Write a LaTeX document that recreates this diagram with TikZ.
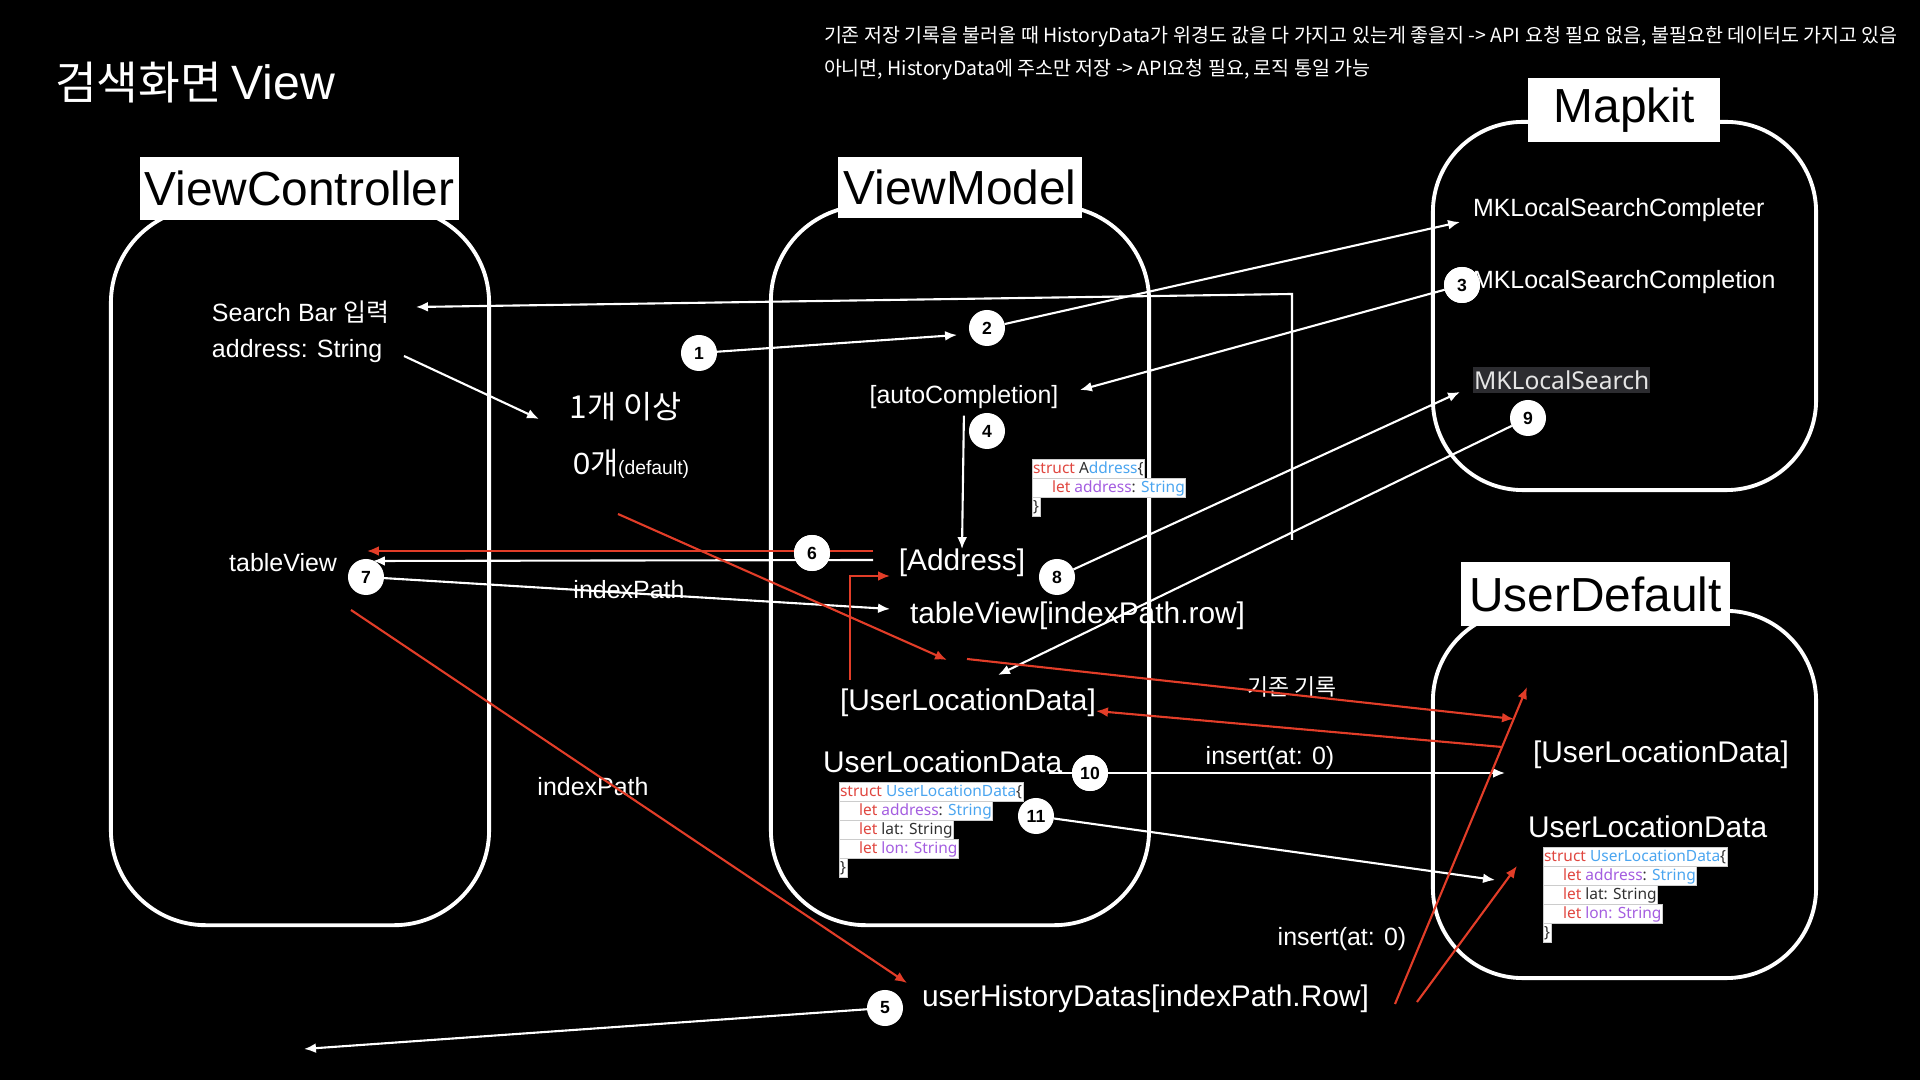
\documentclass[tikz,border=0pt]{standalone}
\usepackage{fontspec}
\setmainfont{Liberation Sans}
\newfontfamily\kr{Noto Sans CJK KR}
\newfontfamily\codefont{Noto Sans}
\usetikzlibrary{arrows.meta}
\definecolor{redline}{HTML}{E23D28}
\definecolor{kwred}{HTML}{E0463F}
\definecolor{tyblue}{HTML}{4AA5F0}
\definecolor{idpurple}{HTML}{A45DE0}
\definecolor{codegray}{HTML}{303030}
\definecolor{hlgray}{HTML}{2C2C30}
\newcommand{\fsz}[1]{\fontsize{#1}{#1}\selectfont}

\begin{document}
\begin{tikzpicture}[x=0.01cm, y=-0.01cm]
\tikzset{ >={Latex[length=3.4pt,width=2.8pt]}, inner sep=0pt, outer sep=0pt,
  box/.style={draw=white, line width=1.1pt, rounded corners=0.95cm},
  boxlabel/.style={fill=white, text=black, font=\fsz{13.6}},
  txt/.style={text=white, font=\fsz{7.1}},
  bigtxt/.style={text=white, font=\fsz{8.5}},
  num/.style={circle, fill=white, text=black, minimum size=0.36cm, font=\bfseries\fsz{5}},
  wire/.style={white, line width=0.6pt},
  redwire/.style={redline, line width=0.6pt},
  code/.style={fill=white, draw=black!20, line width=0.2pt, anchor=west, inner xsep=0.3pt,
    inner ysep=0.35pt, text height=3.6pt, text depth=1.1pt, font=\codefont\fsz{4.4}},
}

\fill [black] (0,0) rectangle (1920,1080);
\useasboundingbox (0,0) rectangle (1920,1080);

%\draw [gray, dashed] (0,0) grid[step=1cm] (1920,1080);

\node [anchor=west, text=white] (TT) at (55,83) {{\kr\fsz{12.9}검색화면} {\fsz{13.7}View}};
\node [anchor=west, text=white, font=\kr\fsz{5.55}] (C1) at (824,37) {기존 저장 기록을 불러올 때 HistoryData가 위경도 값을 다 가지고 있는게 좋을지 -> API 요청 필요 없음, 불필요한 데이터도 가지고 있음};
\node [anchor=west, text=white, font=\kr\fsz{5.55}] (C2) at (824,70) {아니면, HistoryData에 주소만 저장 -> API요청 필요, 로직 통일 가능};

% boxes
\node [box, minimum width=3.78cm, minimum height=7.17cm] (VC) at (300,566.5) {};
\node [box, minimum width=3.78cm, minimum height=7.19cm] (VM) at (960,565.5) {};
\node [box, minimum width=3.83cm, minimum height=3.68cm, rounded corners=0.9cm] (MK) at (1624.5,306) {};
\node [box, minimum width=3.83cm, minimum height=3.67cm, rounded corners=0.9cm] (UD) at (1624.5,794.5) {};

\node [boxlabel, minimum width=3.19cm, minimum height=0.63cm] (VCL) at (299.5,188.5) {ViewController};
\node [boxlabel, minimum width=2.44cm, minimum height=0.61cm] (VML) at (960,187.5) {ViewModel};
\node [boxlabel, minimum width=1.92cm, minimum height=0.64cm] (MKL) at (1624,110) {Mapkit};
\node [boxlabel, minimum width=2.69cm, minimum height=0.64cm] (UDL) at (1595.5,594) {UserDefault};

% texts
\node [txt, anchor=west] (SB) at (212,312) {Search Bar {\kr 입력}};
\node [txt, anchor=west] (AS) at (212,351) {address: String};
\node [txt, anchor=east] (TV) at (337,563) {tableView};
\node [text=white, font=\kr\fsz{9}] (ONE) at (626,407) {1개 이상};
\node [text=white, anchor=west] (ZERO) at (573,464) {{\fsz{8.7}0}{\kr\fsz{8.7}개}{\fsz{5.5}(default)}};
\node [txt] (AC) at (964,397) {[autoCompletion]};
\node [bigtxt] (AD) at (962,563) {[Address]};
\node [bigtxt, anchor=west] (TVR) at (910,616) {tableView[indexPath.row]};
\node [bigtxt, anchor=west] (ULA) at (840,703) {[UserLocationData]};
\node [bigtxt, anchor=west] (ULD) at (823,762) {UserLocationData};
\node [bigtxt, anchor=west] (UHD) at (922,999) {userHistoryDatas[indexPath.Row]};
\node [txt] (IP1) at (629,590) {indexPath};
\node [txt] (IP2) at (593,787) {indexPath};
\node [text=white, font=\kr\fsz{6.5}] (OLD) at (1292,687) {기존 기록};
\node [txt] (INS1) at (1270,758) {insert(at: 0)};
\node [txt] (INS2) at (1342,939) {insert(at: 0)};
\node [txt, anchor=west] (MK1) at (1473,210) {MKLocalSearchCompleter};
\node [txt, anchor=west] (MK2) at (1473,282) {MKLocalSearchCompletion};
\node [anchor=west, fill=hlgray, text=white!90!black, inner xsep=0.3pt, inner ysep=1pt, font=\codefont\fsz{7}] (MK3) at (1473,380) {MKLocalSearch};
\node [bigtxt, anchor=west] (UDA) at (1533,755) {[UserLocationData]};
\node [bigtxt, anchor=west] (UDD) at (1528,827) {UserLocationData};

% code
\node [code] (AS1) at (1032,469) {\color{kwred}struct \color{codegray}A\color{tyblue}ddress\color{codegray}\{};
\node [code] (AS2) at (1032,488) {\hspace{5.4pt}\color{kwred}let \color{idpurple}address\color{codegray}: \color{tyblue}String};
\node [code] (AS3) at (1032,507) {\color{codegray}\}};

\node [code] (VS1) at (839,792) {\color{kwred}struct \color{tyblue}UserLocationData\color{codegray}\{};
\node [code] (VS2) at (839,811) {\hspace{5.4pt}\color{kwred}let \color{idpurple}address\color{codegray}: \color{tyblue}String};
\node [code] (VS3) at (839,830) {\hspace{5.4pt}\color{kwred}let \color{codegray}lat: String};
\node [code] (VS4) at (839,849) {\hspace{5.4pt}\color{kwred}let \color{idpurple}lon: String};
\node [code] (VS5) at (839,868) {\color{codegray}\}};

\node [code] (US1) at (1543,857) {\color{kwred}struct \color{tyblue}UserLocationData\color{codegray}\{};
\node [code] (US2) at (1543,876) {\hspace{5.4pt}\color{kwred}let \color{idpurple}address\color{codegray}: \color{tyblue}String};
\node [code] (US3) at (1543,895) {\hspace{5.4pt}\color{kwred}let \color{codegray}lat: String};
\node [code] (US4) at (1543,914) {\hspace{5.4pt}\color{kwred}let \color{idpurple}lon: String};
\node [code] (US5) at (1543,933) {\color{codegray}\}};

% free ends
\coordinate (SBtip) at (416,307);
\coordinate (CVt) at (1292,294);
\coordinate (CVb) at (1292,540);
\coordinate (ASs) at (404,356);
\coordinate (ASe) at (539,419);
\coordinate (T1) at (957,335);
\coordinate (T2) at (1460,222);
\coordinate (T3) at (1080,390);
\coordinate (R6s) at (873,551);
\coordinate (R6e) at (367,551);
\coordinate (W6s) at (873,560);
\coordinate (W6e) at (373,561);
\coordinate (T7) at (890,609);
\coordinate (RDs) at (618,514);
\coordinate (RDe) at (947,660);
\coordinate (RIs) at (351,610);
\coordinate (RIe) at (907,983);
\coordinate (REs) at (850,680);
\coordinate (REe) at (890,576);
\coordinate (T8) at (1460,392);
\coordinate (T9) at (998,675);
\coordinate (ROs) at (967,659);
\coordinate (ROe) at (1514,719);
\coordinate (RBs) at (1502,747);
\coordinate (RBe) at (1096,711);
\coordinate (T10s) at (1049,773);
\coordinate (T10) at (1505,773);
\coordinate (T11) at (1495,880);
\coordinate (T5) at (304,1049);
\coordinate (RUs) at (1395,1004);
\coordinate (RUe) at (1527,687);
\coordinate (RVs) at (1417,1002);
\coordinate (RVe) at (1517,866);

% circles
\node [num] (N1) at (699,353) {1};
\node [num] (N2) at (987,328) {2};
\node [num] (N3) at (1462,285) {3};
\node [num] (N4) at (987,431) {4};
\node [num] (N5) at (885,1008) {5};
\node [num] (N6) at (812,553) {6};
\node [num] (N7) at (366,577) {7};
\node [num] (N8) at (1057,577) {8};
\node [num] (N9) at (1528,418) {9};
\node [num] (N10) at (1090,773) {10};
\node [num] (N11) at (1036,816) {11};

\draw [wire, ->] (CVb) -- (CVt) -- (SBtip);
\draw [wire, ->] (ASs) -- (ASe);
\draw [wire, ->] (N1) -- (T1);
\draw [wire, ->] (N2) -- (T2);
\draw [wire, ->] (N3) -- (T3);
\draw [wire, ->, shorten <=2pt] (AC.south) -- (AD.north);
\draw [redwire, ->] (R6s) -- (R6e);
\draw [wire, ->] (W6s) -- (W6e);
\draw [wire, ->] (N7) -- (T7);
\draw [redwire, ->] (RDs) -- (RDe);
\draw [redwire, ->] (RIs) -- (RIe);
\draw [redwire, ->] (REs) |- (REe);
\draw [wire, ->] (N8) -- (T8);
\draw [wire, ->] (N9) -- (T9);
\draw [redwire, ->] (ROs) -- (ROe);
\draw [redwire, ->] (RBs) -- (RBe);
\draw [wire, ->] (T10s) -- (T10);
\draw [wire, ->] (N11) -- (T11);
\draw [wire, ->] (N5) -- (T5);
\draw [redwire, ->] (RUs) -- (RUe);
\draw [redwire, ->] (RVs) -- (RVe);

% circles on top of wires
\node [num] at (N6) {6};
\node [num] at (N10) {10};
\node [num] at (N3) {3};
\end{tikzpicture}
\end{document}
